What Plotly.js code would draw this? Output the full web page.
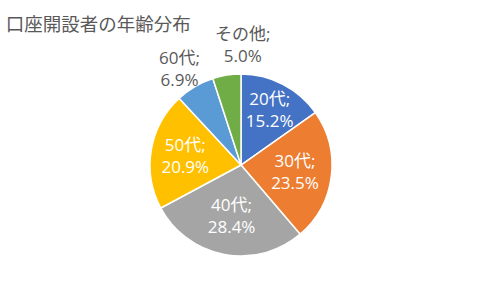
<!DOCTYPE html>
<html>
<head>
<meta charset="utf-8">
<script src="https://cdn.plot.ly/plotly-3.0.1.min.js"></script>
<style>html,body{margin:0;padding:0;background:#fff;}#chart{width:480px;height:288px;}</style>
</head>
<body>
<div id="chart"></div>
<script>
var categories = ["20代", "30代", "40代", "50代", "60代", "その他"];
var shares = [15.2, 23.5, 28.4, 20.9, 6.9, 5.0];
var colors = ["#4472C4", "#ED7D31", "#A5A5A5", "#FFC000", "#5B9BD5", "#70AD47"];
var positions = ["inside", "inside", "inside", "inside", "none", "none"];
var titleText = "口座開設者の年齢分布";

var fontFam = "Open Sans, Noto Sans CJK JP, sans-serif";

var trace = {
  type: "pie",
  labels: categories,
  values: shares,
  sort: false,
  direction: "clockwise",
  rotation: 0,
  marker: {colors: colors, line: {color: "#ffffff", width: 1.5}},
  texttemplate: "%{label};<br>%{value:.1f}%",
  textposition: positions,
  insidetextorientation: "horizontal",
  textfont: {family: fontFam, size: 17, color: "#ffffff"},
  hoverinfo: "none",
  domain: {x: [0.3125, 0.6917], y: [0.111, 0.743]},
  showlegend: false
};

function lbl(i) { return categories[i] + ";<br>" + shares[i].toFixed(1) + "%"; }

var layout = {
  width: 480, height: 288,
  margin: {l: 0, r: 0, t: 0, b: 0},
  paper_bgcolor: "#ffffff",
  uniformtext: {minsize: 17, mode: "show"},
  title: {text: titleText, x: 0.012, xanchor: "left", y: 0.915, yanchor: "middle",
          font: {family: "Noto Sans CJK JP, sans-serif", size: 18.5, color: "#595959"}},
  annotations: [
    {text: lbl(4), xref: "paper", yref: "paper", x: 179/480, y: 1 - 68/288, xanchor: "center", yanchor: "middle",
     showarrow: false, align: "center", font: {family: fontFam, size: 17, color: "#595959"}},
    {text: lbl(5), xref: "paper", yref: "paper", x: 242/480, y: 1 - 44/288, xanchor: "center", yanchor: "middle",
     showarrow: false, align: "center", font: {family: fontFam, size: 17, color: "#595959"}}
  ],
  showlegend: false
};

Plotly.newPlot("chart", [trace], layout, {displayModeBar: false, staticPlot: true});
</script>
</body>
</html>
